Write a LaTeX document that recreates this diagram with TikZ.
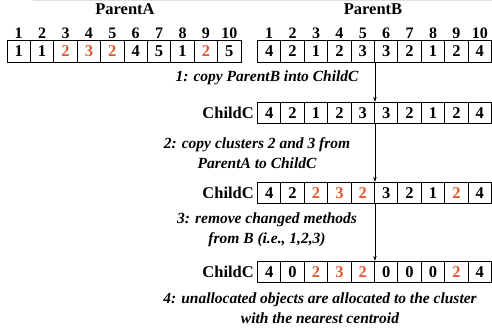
\documentclass[tikz,border=0pt]{standalone}
\usepackage{fontspec}
\setmainfont{Liberation Serif}
\usetikzlibrary{arrows.meta}
\definecolor{hl}{RGB}{224,88,48}
\begin{document}
\begin{tikzpicture}[x=1pt,y=1pt,
  cell/.style={draw, line width=0.9pt, minimum width=23.4pt, minimum height=21.5pt, inner sep=0pt,
    font=\fontsize{16.5}{16.5}\selectfont\bfseries},
  idx/.style={anchor=base, inner sep=0pt, font=\fontsize{16}{16}\selectfont\bfseries},
  head/.style={anchor=base, inner sep=0pt, font=\fontsize{16.5}{16.5}\selectfont\bfseries},
  lbl/.style={anchor=east, inner sep=0pt, font=\fontsize{16.5}{16.5}\selectfont\bfseries},
  step text/.style={align=center, inner sep=0pt, font=\fontsize{15.5}{20}\selectfont\bfseries\itshape},
  arr/.style={line width=0.6pt, -{Stealth[length=5pt,width=3.5pt]}}]
\useasboundingbox (0,0) rectangle (492,-333);
% headings (partly cut off at the top)
\node[head] (hA) at (125,-14) {ParentA};
\node[head] (hB) at (373,-14) {ParentB};
\fill[white] (0,0) rectangle (492,-2.5);
\draw[black!12, line width=1pt] (33,-0.5) -- (492,-0.5);
% index numbers
\foreach \i in {1,...,10} {
  \node[idx] (ia\i) at ({7+23.4*(\i-0.5)},-38.5) {\i};
  \node[idx] (ib\i) at ({257.5+23.4*(\i-0.5)},-38.5) {\i};
}
% Parent A
\foreach \v [count=\i] in {1,1,{\color{hl}2},{\color{hl}3},{\color{hl}2},4,5,1,{\color{hl}2},5}
  \node[cell] (a\i) at ({7+23.4*(\i-0.5)},-51.5) {\v};
% Parent B
\foreach \v [count=\i] in {4,2,1,2,3,3,2,1,2,4}
  \node[cell] (b\i) at ({257.5+23.4*(\i-0.5)},-51.5) {\v};
% Child C, step 1
\node[lbl] (lc1) at (254,-113) {ChildC};
\foreach \v [count=\i] in {4,2,1,2,3,3,2,1,2,4}
  \node[cell] (c\i) at ({257.5+23.4*(\i-0.5)},-113) {\v};
% Child C, step 2
\node[lbl] (ld1) at (254,-193) {ChildC};
\foreach \v [count=\i] in {4,2,{\color{hl}2},{\color{hl}3},{\color{hl}2},3,2,1,{\color{hl}2},4}
  \node[cell] (d\i) at ({257.5+23.4*(\i-0.5)},-193) {\v};
% Child C, step 3
\node[lbl] (le1) at (254,-272) {ChildC};
\foreach \v [count=\i] in {4,0,{\color{hl}2},{\color{hl}3},{\color{hl}2},0,0,0,{\color{hl}2},4}
  \node[cell] (e\i) at ({257.5+23.4*(\i-0.5)},-272) {\v};
% step texts
\node[step text] (s1) at (267,-78) {1: copy ParentB into ChildC};
\node[step text] (s2) at (257,-153) {2: copy clusters 2 and 3 from\\ParentA to ChildC};
\node[step text] (s3) at (267,-230) {3: remove changed methods\\from B (i.e., 1,2,3)};
\node[step text] (s4) at (320,-308) {4: unallocated objects are allocated to the cluster\\with the nearest centroid};
% arrows
\draw[arr] (b5.south east) -- (c5.north east);
\draw[arr] (c5.south east) -- (d5.north east);
\draw[arr] (d5.south east) -- (e5.north east);
\end{tikzpicture}
\end{document}
